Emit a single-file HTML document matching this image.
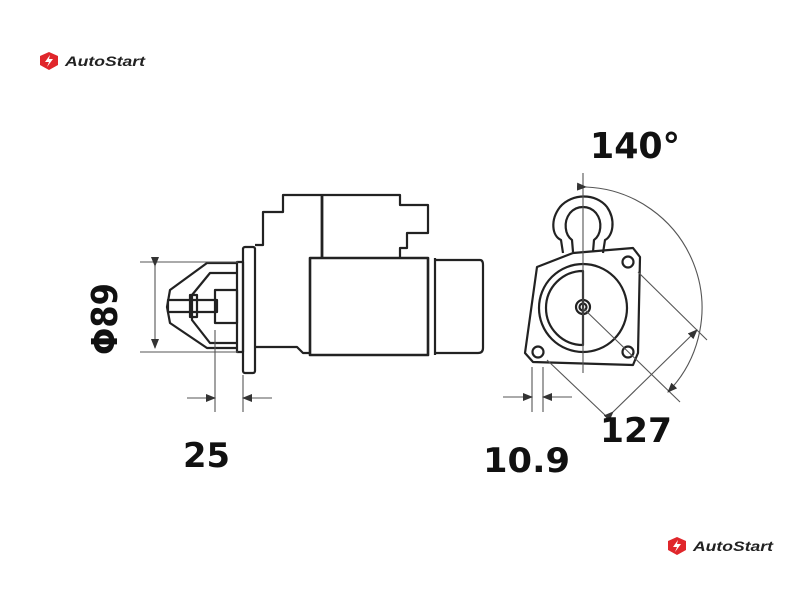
<!DOCTYPE html>
<html><head><meta charset="utf-8"><style>
html,body{margin:0;padding:0;background:#fff;width:800px;height:600px;overflow:hidden}
svg{display:block}
.t{font-family:"DejaVu Sans","Liberation Sans",sans-serif;font-weight:bold;fill:#111}
.logo{font-family:"Liberation Sans",sans-serif;font-weight:bold;font-style:italic;fill:#222;font-size:14px}
</style></head><body>
<svg width="800" height="600" viewBox="0 0 800 600">
<defs>
<marker id="a" markerWidth="10" markerHeight="8" refX="9" refY="4" orient="auto" markerUnits="userSpaceOnUse"><path d="M0,0 L10,4 L0,8 z" fill="#333"/></marker>
</defs>
<g transform="translate(40,52)">
<path d="M9,0 L18,4 L18,13 L9,18 L0,13 L0,4 Z" fill="#e0262b"/>
<path d="M10,3 L5,10 L9,10 L7,15 L13,7 L9,7 Z" fill="#fff"/>
<text x="25" y="14" class="logo" textLength="80" lengthAdjust="spacingAndGlyphs">AutoStart</text>
</g>
<g transform="translate(668,537)">
<path d="M9,0 L18,4 L18,13 L9,18 L0,13 L0,4 Z" fill="#e0262b"/>
<path d="M10,3 L5,10 L9,10 L7,15 L13,7 L9,7 Z" fill="#fff"/>
<text x="25" y="14" class="logo" textLength="80" lengthAdjust="spacingAndGlyphs">AutoStart</text>
</g>

<g fill="none" stroke="#222" stroke-width="2.2" stroke-linejoin="round">
<path d="M238,263 L207,263 L170,290 L167,307 L170,323 L207,348 L238,348"/>
<path d="M237,273 L210,273 L192,295 L192,320 L210,343 L237,343"/>
<rect x="168" y="300" width="49" height="12"/>
<rect x="190" y="295" width="7" height="22"/>
<rect x="215" y="290" width="22" height="33"/>
<rect x="237" y="262" width="6" height="90"/>
<rect x="243" y="247" width="12" height="126" rx="2"/>
<path d="M255,245 L263,245 L263,212 L283,212 L283,195 L400,195 L400,205 L428,205 L428,233 L407,233 L407,248 L400,248 L400,258"/>
<line x1="322" y1="195" x2="322" y2="258" stroke-width="2.8"/>
<path d="M255,347 L297,347 L303,353 L310,353"/>
<rect x="310" y="258" width="118" height="97" stroke-width="2.6"/>
<line x1="435" y1="258" x2="435" y2="355"/>
<path d="M435,260 L480,260 Q483,260 483,265 L483,348 Q483,353 478,353 L435,353"/>
<path d="M563,253 L561,240 C552,236 550,220 560,207 C572,193 596,193 607,207 C616,220 613,236 605,240 L603,253"/>
<path d="M573,252 L572,240 C565,235 563,222 570,213 C577,205 589,205 596,213 C603,222 601,235 594,240 L593,252"/>
<path d="M525,353 L537,267 L573,253 L633,248 L640,257 L638,353 L633,365 L533,362 Z"/>
<circle cx="628" cy="262" r="5.5"/>
<circle cx="538" cy="352" r="5.5"/>
<circle cx="628" cy="352" r="5.5"/>
<circle cx="583" cy="308" r="44"/>
<path d="M583,271 A37,37 0 0 0 583,345 Z"/>
<circle cx="583" cy="307" r="7"/>
<circle cx="583" cy="307" r="3.5"/>
</g>
<g fill="none" stroke="#555" stroke-width="1.1">
<line x1="140" y1="262" x2="238" y2="262"/>
<line x1="140" y1="352" x2="238" y2="352"/>
<line x1="155" y1="266" x2="155" y2="348" marker-start="url(#a)" marker-end="url(#a)"/>
<line x1="215" y1="330" x2="215" y2="412"/>
<line x1="243" y1="375" x2="243" y2="412"/>
<line x1="187" y1="398" x2="215" y2="398" marker-end="url(#a)"/>
<line x1="272" y1="398" x2="243" y2="398" marker-end="url(#a)"/>
<line x1="583" y1="173" x2="583" y2="373"/>
<line x1="583" y1="308" x2="680" y2="402"/>
<line x1="638" y1="272" x2="707" y2="340"/>
<line x1="547" y1="360" x2="607" y2="417"/>
<line x1="613" y1="412" x2="697" y2="330" marker-start="url(#a)" marker-end="url(#a)"/>
<path d="M586,187 A121,121 0 0 1 668,392" marker-start="url(#a)" marker-end="url(#a)"/>
<line x1="532" y1="367" x2="532" y2="412"/>
<line x1="543" y1="367" x2="543" y2="412"/>
<line x1="503" y1="397" x2="532" y2="397" marker-end="url(#a)"/>
<line x1="572" y1="397" x2="543" y2="397" marker-end="url(#a)"/>
</g>
<text x="590" y="158" class="t" font-size="36" textLength="90" lengthAdjust="spacingAndGlyphs">140°</text>
<text x="600" y="442" class="t" font-size="34" textLength="72" lengthAdjust="spacingAndGlyphs">127</text>
<text x="483" y="472" class="t" font-size="34" textLength="87" lengthAdjust="spacingAndGlyphs">10.9</text>
<text x="183" y="467" class="t" font-size="34" textLength="47" lengthAdjust="spacingAndGlyphs">25</text>
<text transform="translate(117,355) rotate(-90)" class="t" font-size="36" textLength="72" lengthAdjust="spacingAndGlyphs">Φ89</text>
</svg>
</body></html>
